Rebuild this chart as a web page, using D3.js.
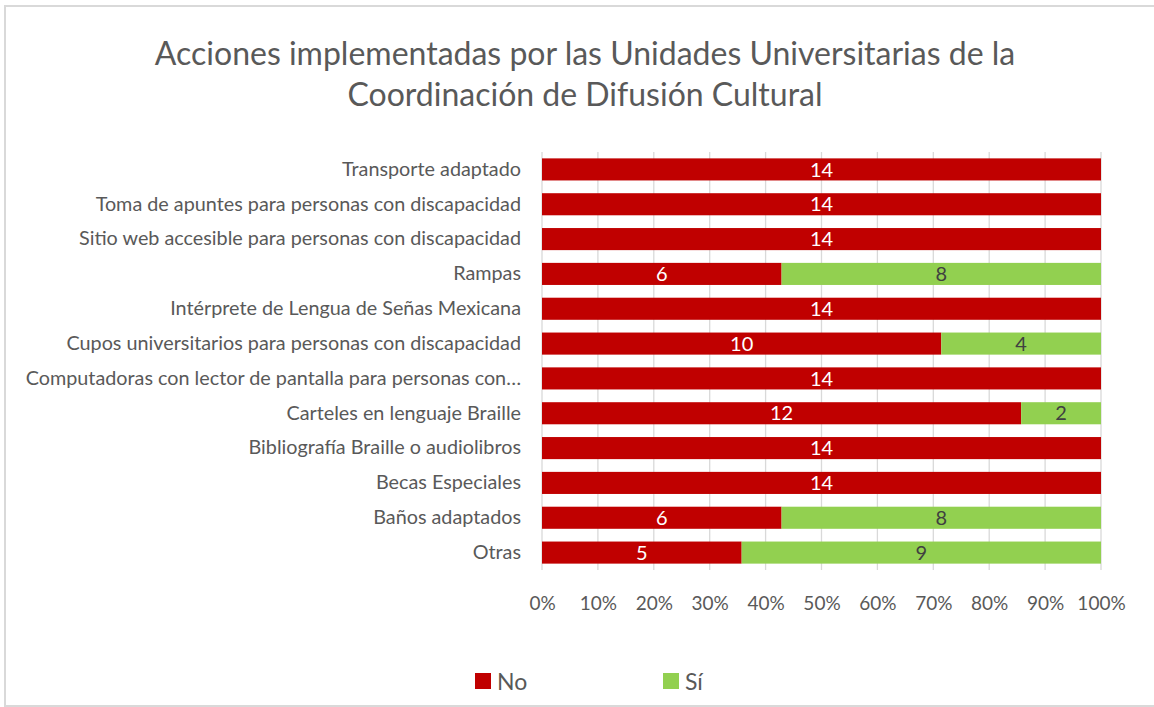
<!DOCTYPE html>
<html>
<head>
<meta charset="utf-8">
<script src="https://cdn.jsdelivr.net/npm/d3@7"></script>
<style>
    body { margin: 0; background: #fff; }
    svg { display: block; font-family: Lato, "Open Sans", sans-serif; }
</style>
</head>
<body>
<div id="chart"></div>
<script>
// categories, top to bottom as they appear in the chart
const categories = [
    "Transporte adaptado",
    "Toma de apuntes para personas con discapacidad",
    "Sitio web accesible para personas con discapacidad",
    "Rampas",
    "Intérprete de Lengua de Señas Mexicana",
    "Cupos universitarios para personas con discapacidad",
    "Computadoras con lector de pantalla para personas con…",
    "Carteles en lenguaje Braille",
    "Bibliografía Braille o audiolibros",
    "Becas Especiales",
    "Baños adaptados",
    "Otras"
];
const noValues = [14, 14, 14, 6, 14, 10, 14, 12, 14, 14, 6, 5];
const siValues = [0, 0, 0, 8, 0, 4, 0, 2, 0, 0, 8, 9];
const seriesNames = ["No", "Sí"];
const seriesColors = ["#C00000", "#92D050"];
const labelColors = ["#ffffff", "#404040"];
const tickValues = [0, 0.1, 0.2, 0.3, 0.4, 0.5, 0.6, 0.7, 0.8, 0.9, 1];
const titleLines = [
    "Acciones implementadas por las Unidades Universitarias de la",
    "Coordinación de Difusión Cultural"
];

const width = 1154, height = 707;
const plot = {margin: {top: 152, left: 542, right: 53, bottom: 137}};
plot.width = width - plot.margin.left - plot.margin.right;
plot.height = height - plot.margin.top - plot.margin.bottom;

const svg = d3.select("#chart").append("svg")
    .attr("width", width)
    .attr("height", height);

// chart frame (right side runs off the picture)
svg.append("rect")
    .attr("x", 5).attr("y", 6)
    .attr("width", 1170).attr("height", 700)
    .attr("fill", "#fff")
    .attr("stroke", "#d9d9d9")
    .attr("stroke-width", 2);

// title
svg.append("text")
    .attr("text-anchor", "middle")
    .attr("fill", "#595959")
    .style("font-size", "32px")
    .selectAll("tspan")
    .data(titleLines)
    .join("tspan")
    .attr("x", 585)
    .attr("y", (d, i) => 65 + i * 41)
    .text(d => d);

const rows = categories.map((c, i) => ({
    category: c,
    values: [noValues[i], siValues[i]],
    total: noValues[i] + siValues[i]
}));

const x = d3.scaleLinear().domain([0, 1]).range([0, plot.width]);
const y = d3.scaleBand().domain(categories).range([0, plot.height])
    .paddingInner(0.366).paddingOuter(0.183);

const g = svg.append("g")
    .attr("transform", "translate(" + plot.margin.left + "," + plot.margin.top + ")");

//gridlines
g.append("g")
    .selectAll("line")
    .data(tickValues)
    .join("line")
    .attr("x1", d => x(d)).attr("x2", d => x(d))
    .attr("y1", 0).attr("y2", plot.height)
    .attr("stroke", "#d9d9d9")
    .attr("stroke-width", 1.3);

// x axis labels
const xAxis = g.append("g")
    .attr("transform", "translate(0," + plot.height + ")")
    .call(d3.axisBottom(x).tickValues(tickValues).tickFormat(d3.format(".0%")).tickSize(0).tickPadding(27));
xAxis.select(".domain").remove();
xAxis.selectAll("text")
    .attr("fill", "#595959")
    .style("font-family", "Lato, sans-serif")
    .style("font-size", "19px");

// category labels
const yAxis = g.append("g")
    .call(d3.axisLeft(y).tickSize(0).tickPadding(21));
yAxis.select(".domain").remove();
yAxis.selectAll("text")
    .attr("fill", "#595959")
    .style("font-family", "Lato, sans-serif")
    .style("font-size", "19.8px");

// stacked segments
const segments = [];
rows.forEach(r => {
    let acc = 0;
    r.values.forEach((v, s) => {
        segments.push({category: r.category, series: s, value: v,
            x0: acc / r.total, x1: (acc + v) / r.total});
        acc += v;
    });
});
const shown = segments.filter(d => d.value > 0);

g.append("g")
    .selectAll("rect")
    .data(shown)
    .join("rect")
    .attr("x", d => x(d.x0))
    .attr("y", d => y(d.category))
    .attr("width", d => x(d.x1) - x(d.x0))
    .attr("height", y.bandwidth())
    .attr("fill", d => seriesColors[d.series]);

g.append("g")
    .selectAll("text")
    .data(shown)
    .join("text")
    .attr("x", d => (x(d.x0) + x(d.x1)) / 2)
    .attr("y", d => y(d.category) + y.bandwidth() / 2)
    .attr("dy", "0.36em")
    .attr("text-anchor", "middle")
    .attr("fill", d => labelColors[d.series])
    .style("font-size", "20px")
    .text(d => d.value);

// legend
const legend = svg.append("g")
    .selectAll("g")
    .data(seriesNames)
    .join("g")
    .attr("transform", (d, i) => "translate(" + (475 + i * 188) + ",673)");
legend.append("rect")
    .attr("width", 16).attr("height", 16)
    .attr("fill", (d, i) => seriesColors[i]);
legend.append("text")
    .attr("x", 22).attr("y", 17)
    .attr("fill", "#595959")
    .style("font-size", "23px")
    .text(d => d);
</script>
</body>
</html>
